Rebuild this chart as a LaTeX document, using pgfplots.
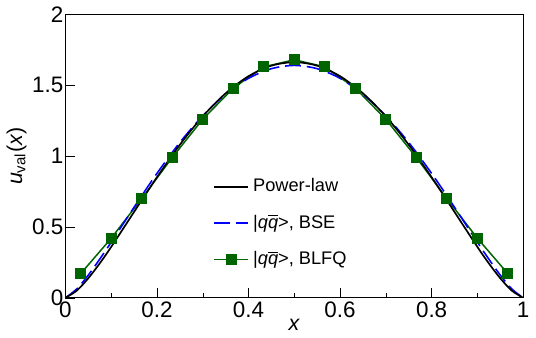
\documentclass[border=0pt]{standalone}
\usepackage{fontspec}
\setmainfont{Liberation Sans}
\usepackage{pgfplots}
\pgfplotsset{compat=1.18}

\definecolor{blfqgreen}{RGB}{0,100,0}

\pgfplotstableread{
x      y
0.0333 0.17
0.1000 0.42
0.1667 0.70
0.2333 0.99
0.3000 1.26
0.3667 1.48
0.4333 1.63
0.5000 1.68
0.5667 1.63
0.6333 1.48
0.7000 1.26
0.7667 0.99
0.8333 0.70
0.9000 0.42
0.9667 0.17
}\blfq

\pgfplotstableread{
x     y
0.000 0.000
0.025 0.063
0.050 0.160
0.075 0.273
0.100 0.392
0.150 0.639
0.200 0.878
0.250 1.096
0.300 1.284
0.350 1.437
0.400 1.549
0.450 1.617
0.500 1.640
0.550 1.617
0.600 1.549
0.650 1.437
0.700 1.284
0.750 1.096
0.800 0.878
0.850 0.639
0.900 0.392
0.925 0.273
0.950 0.160
0.975 0.063
1.000 0.000
}\bse

\pgfplotstableread{
x     y
0.000 0.000
0.025 0.051
0.050 0.138
0.075 0.243
0.100 0.359
0.150 0.606
0.200 0.851
0.250 1.080
0.300 1.280
0.350 1.443
0.400 1.564
0.450 1.638
0.500 1.663
0.550 1.638
0.600 1.564
0.650 1.443
0.700 1.280
0.750 1.080
0.800 0.851
0.850 0.606
0.900 0.359
0.925 0.243
0.950 0.138
0.975 0.051
1.000 0.000
}\powerlaw

\begin{document}
\begin{tikzpicture}
\begin{axis}[
  scale only axis,
  width=231pt, height=143pt,
  xmin=0, xmax=1, ymin=0, ymax=2,
  xtick={0,0.2,...,1}, minor x tick num=1,
  ytick={0,0.5,...,2},
  tick align=inside,
  xtick pos=bottom, ytick pos=left,
  major tick length=5pt, minor tick length=2.5pt,
  tick style={black},
  /pgf/number format/assume math mode=true,
  tick label style={font=\fontsize{11.3}{13}\selectfont},
  xticklabel style={yshift=1.5pt},
  yticklabel style={xshift=2.5pt},
  label style={font=\fontsize{10.8}{12}\selectfont},
  xlabel={\textit{x}},
  ylabel={\textit{u}\textsubscript{val}(\textit{x})},
  xlabel style={yshift=6pt},
  ylabel style={yshift=-4pt},
  legend style={draw=none, fill=none, at={(0.31,0.45)}, anchor=north west,
    font=\fontsize{9.2}{11}\selectfont, row sep=6pt,
    /tikz/every even column/.append style={column sep=9.5pt}},
  legend cell align=left,
]
% legend images first, in the reference's order
\addlegendimage{black, line width=0.85pt}
\addlegendentry{Power-law}
\addlegendimage{blue, line width=0.8pt, dash pattern=on 8pt off 3pt}
\addlegendentry{|\textit{q}$\overline{\mbox{\textit{q}}}$>, BSE}
\addlegendimage{draw=blfqgreen, line width=0.75pt, mark=square*, mark size=2.4pt, mark options={fill=blfqgreen, draw=blfqgreen}}
\addlegendentry{|\textit{q}$\overline{\mbox{\textit{q}}}$>, BLFQ}

\addplot[color=blfqgreen, line width=0.75pt, mark=square*, mark size=2.4pt, mark options={fill=blfqgreen, draw=blfqgreen}, forget plot] table {\blfq};
\addplot[blue, line width=0.8pt, dash pattern=on 8pt off 3pt, smooth, forget plot] table {\bse};
\addplot[black, line width=0.85pt, smooth, forget plot] table {\powerlaw};
\end{axis}
\end{tikzpicture}
\end{document}
